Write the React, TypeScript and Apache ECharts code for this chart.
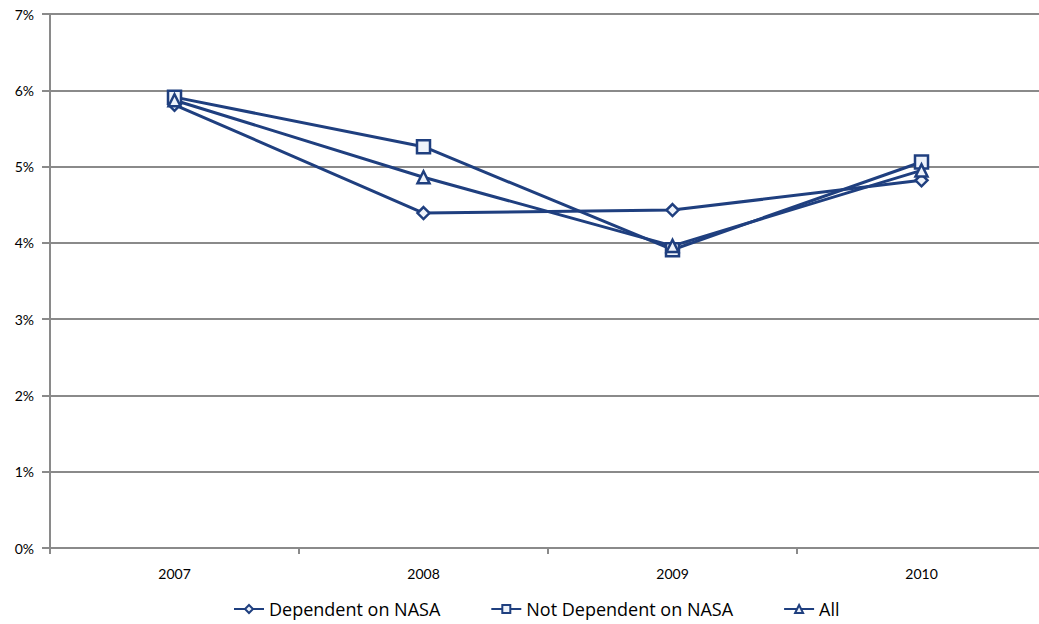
import React, { useEffect, useRef } from "react";
import * as echarts from "echarts";

const years = ["2007", "2008", "2009", "2010"];
const dependent = [5.81, 4.39, 4.43, 4.82];
const notDependent = [5.91, 5.26, 3.91, 5.06];
const all = [5.87, 4.86, 3.96, 4.95];

const NAVY = "#1f3f7f";
const FONT = "Lato";

export default function App() {
  const ref = useRef<HTMLDivElement>(null);
  useEffect(() => {
    if (!ref.current) return;
    const chart = echarts.init(ref.current, undefined, { renderer: "svg" });
    const mk = (name: string, data: number[], symbol: string, size: number) => ({
      name,
      type: "line",
      data,
      symbol,
      symbolSize: size,
      showAllSymbol: true,
      lineStyle: { color: NAVY, width: 3 },
      itemStyle: { color: "#eef3fb", borderColor: NAVY, borderWidth: 2.5 },
    });
    chart.setOption({
      animation: false,
      backgroundColor: "#ffffff",
      grid: { left: 50, right: 0, top: 14, bottom: 76, containLabel: false },
      legend: {
        top: 595,
        left: 228,
        itemWidth: 30,
        itemHeight: 10,
        itemGap: 50,
        textStyle: { fontFamily: "Open Sans", fontSize: 18, color: "#000" },
        data: ["Dependent on NASA", "Not Dependent on NASA", "All"],
      },
      xAxis: {
        type: "category",
        data: years,
        boundaryGap: true,
        axisLine: { lineStyle: { color: "#8a8a8a", width: 2 } },
        axisTick: { show: true, length: 6, lineStyle: { color: "#8a8a8a", width: 2 } },
        axisLabel: { fontFamily: FONT, fontSize: 14, color: "#000", margin: 18 },
      },
      yAxis: {
        type: "value",
        min: 0,
        max: 7,
        interval: 1,
        axisLine: { show: true, lineStyle: { color: "#8a8a8a", width: 2 } },
        axisTick: { show: true, length: 8, lineStyle: { color: "#8a8a8a", width: 2 } },
        splitLine: { lineStyle: { color: "#8a8a8a", width: 2 } },
        axisLabel: {
          fontFamily: FONT,
          fontSize: 14,
          color: "#000",
          margin: 16,
          formatter: (v: number) => v + "%",
        },
      },
      series: [
        mk("Dependent on NASA", dependent, "diamond", 12),
        mk("Not Dependent on NASA", notDependent, "rect", 13),
        mk("All", all, "triangle", 12),
      ],
    });
    return () => chart.dispose();
  }, []);
  return (
    <div style={{ position: "fixed", left: 0, top: 0, width: 1039, height: 624, overflow: "hidden" }}>
      <div ref={ref} style={{ width: 1046, height: 624 }} />
    </div>
  );
}
